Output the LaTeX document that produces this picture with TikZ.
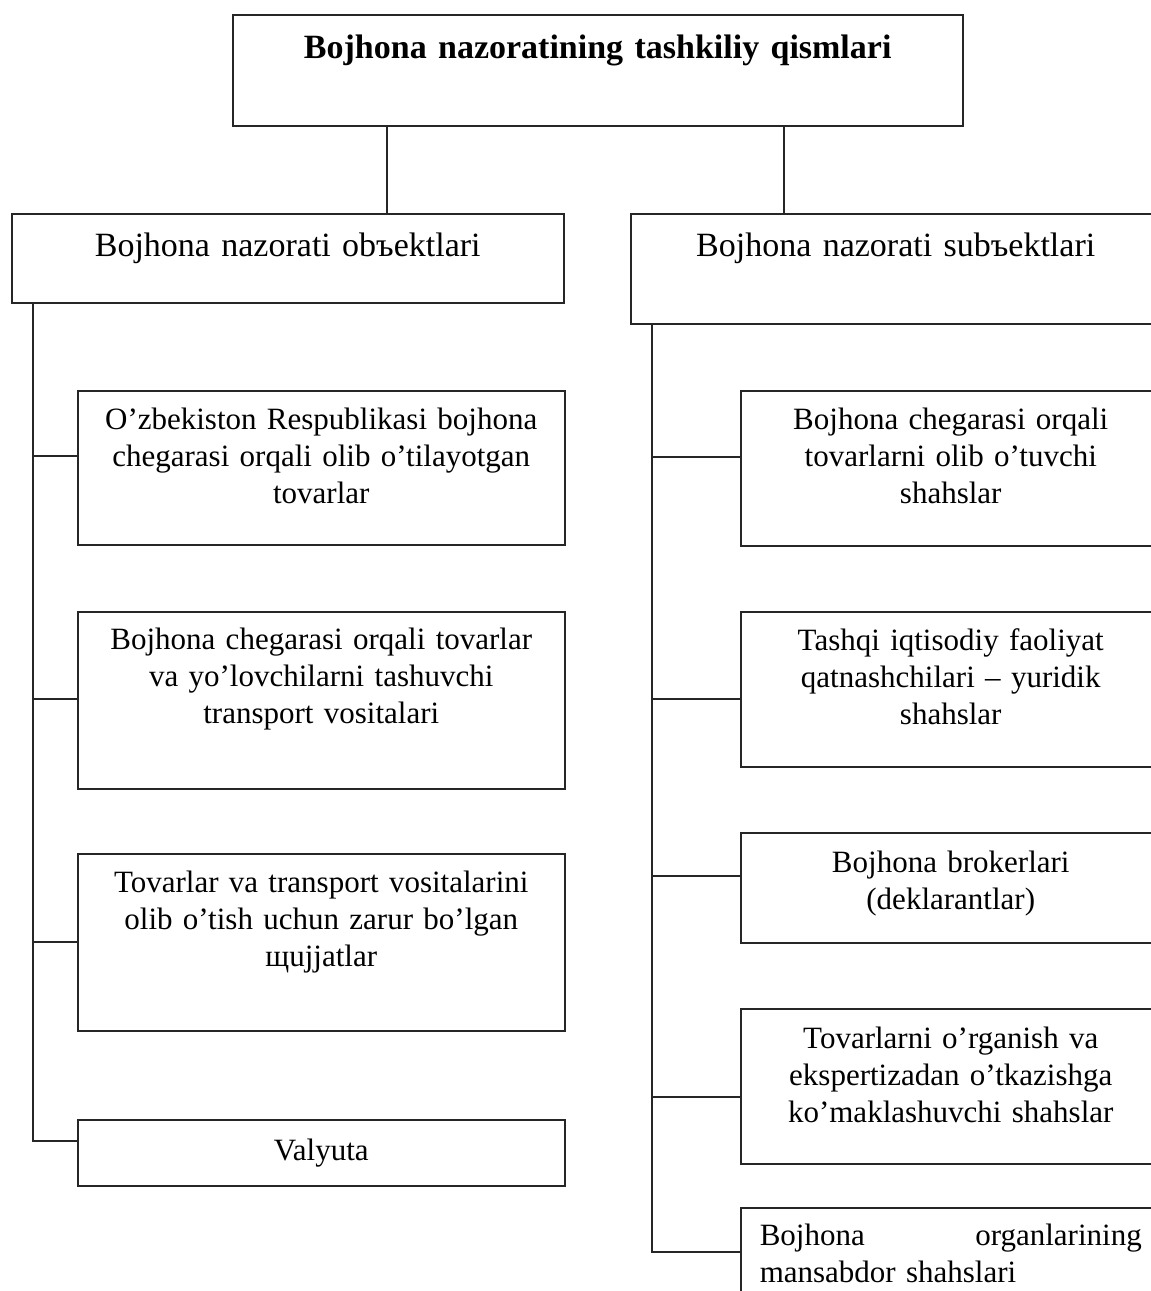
\documentclass[tikz,border=0pt]{standalone}
\usepackage{fontspec}
\setmainfont{Liberation Serif}
\usetikzlibrary{positioning}

\begin{document}
\begin{tikzpicture}[x=1pt, y=-1pt,
 box/.style={draw=black!85, line width=1.5pt, inner sep=0pt, anchor=north west, align=center, text height=39pt},
 head/.style={box, font=\fontsize{34}{40}\selectfont, text height=43pt},
 item/.style={box, font=\fontsize{31}{37}\selectfont},
 link/.style={draw=black!85, line width=1.2pt}
]
\clip (0,0) rectangle (1151,1291);

\node[head, font=\fontsize{34}{40}\selectfont\bfseries, text width=730pt, text height=44pt, text depth=67pt] (top) at (232,14) {Bojhona nazoratining tashkiliy qismlari};

\node[head, text width=552pt, text depth=46pt] (obj) at (11,213) {Bojhona nazorati obъektlari};
\node[head, text width=530pt, text depth=67pt] (sub) at (630,213) {Bojhona nazorati subъektlari};

% obyektlar
\node[item, text width=487pt, text depth=115pt] (o1) at (77,390) {O’zbekiston Respublikasi bojhona\\chegarasi orqali olib o’tilayotgan\\tovarlar};
\node[item, text width=487pt, text height=38pt, text depth=139pt] (o2) at (77,611) {Bojhona chegarasi orqali tovarlar\\va yo’lovchilarni tashuvchi\\transport vositalari};
\node[item, text width=487pt, text depth=138pt] (o3) at (77,853) {Tovarlar va transport vositalarini\\olib o’tish uchun zarur bo’lgan\\щujjatlar};
\node[item, text width=487pt, text height=41pt, text depth=25pt] (o4) at (77,1119) {Valyuta};

% subyektlar
\node[item, text width=420pt, text depth=116pt] (s1) at (740,390) {Bojhona chegarasi orqali\\tovarlarni olib o’tuvchi\\shahslar};
\node[item, text width=420pt, text depth=116pt] (s2) at (740,611) {Tashqi iqtisodiy faoliyat\\qatnashchilari – yuridik\\shahslar};
\node[item, text width=420pt, text height=40pt, text depth=70pt] (s3) at (740,832) {Bojhona brokerlari\\(deklarantlar)};
\node[item, text width=420pt, text height=40pt, text depth=115pt] (s4) at (740,1008) {Tovarlarni o’rganish va\\ekspertizadan o’tkazishga\\ko’maklashuvchi shahslar};
\node[item, align=left, inner xsep=19pt, text width=382pt, text height=38pt, text depth=120pt] (s5) at (740,1207) {Bojhona \hfill organlarining\\mansabdor shahslari};

% connectors
\coordinate (t1) at (387,0);
\coordinate (t2) at (784,0);
\draw[link] (top.south -| t1) -- (obj.north -| t1);
\draw[link] (top.south -| t2) -- (sub.north -| t2);

\coordinate (l1) at (33,456);
\coordinate (l2) at (33,699);
\coordinate (l3) at (33,942);
\coordinate (l4) at (33,1141);
\draw[link] (obj.south -| l4) -- (l4) -- (l4 -| o4.west);
\foreach \i in {1,2,3}
 \draw[link] (l\i) -- (l\i -| o\i.west);

\coordinate (r1) at (652,457);
\coordinate (r2) at (652,699);
\coordinate (r3) at (652,876);
\coordinate (r4) at (652,1097);
\coordinate (r5) at (652,1252);
\draw[link] (sub.south -| r5) -- (r5) -- (r5 -| s5.west);
\foreach \i in {1,2,3,4}
 \draw[link] (r\i) -- (r\i -| s\i.west);

\end{tikzpicture}
\end{document}
